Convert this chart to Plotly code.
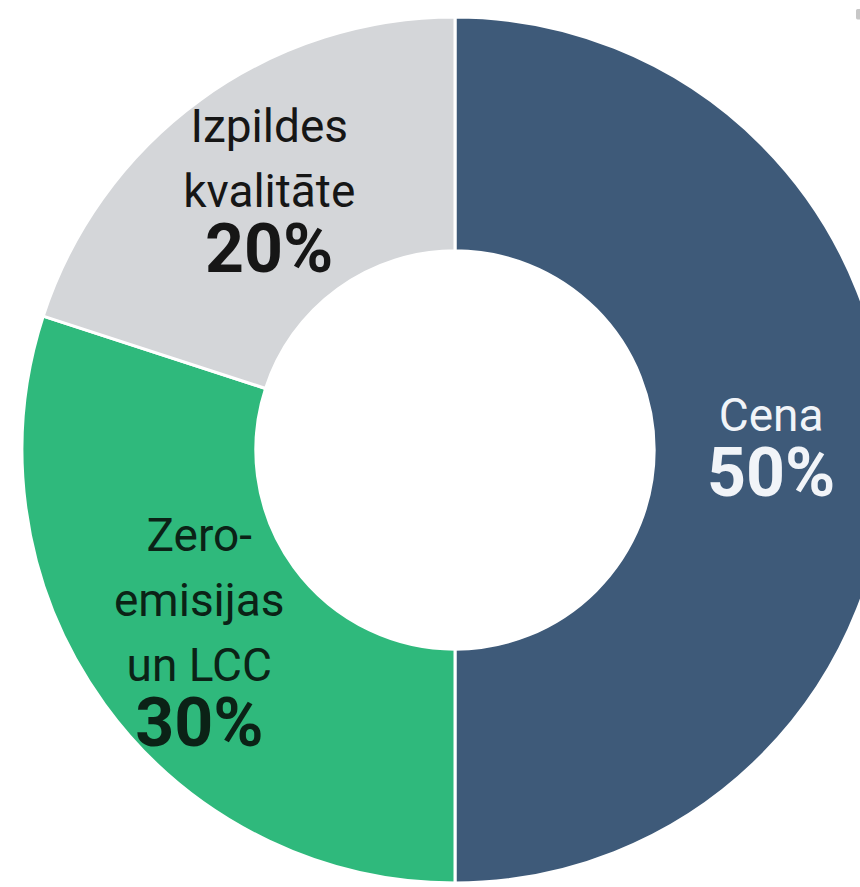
import plotly.graph_objects as go

labels = ["Cena", "Zero-<br>emisijas<br>un LCC", "Izpildes<br>kvalitāte"]
values = [50, 30, 20]
colors = ["#3e5a79", "#2fb97c", "#d4d6d9"]
text_colors = ["#f1f4f8", "#0b2216", "#161616"]

W, H = 910, 900
cx, cy, R = 455, 450, 433

fig = go.Figure(go.Pie(
    labels=labels,
    values=values,
    sort=False,
    direction="clockwise",
    rotation=0,
    hole=0.46,
    marker=dict(colors=colors, line=dict(color="white", width=3)),
    texttemplate=("<span style='font-size:46px'>%{label}</span><br>"
                  "<span style='font-size:68px'><b>%{value}%</b></span>"),
    textposition="inside",
    insidetextorientation="horizontal",
    insidetextfont=dict(family="Roboto, Arial, sans-serif", size=50, color=text_colors),
    showlegend=False,
    domain=dict(x=[(cx - R) / W, (cx + R) / W], y=[1 - (cy + R) / H, 1 - (cy - R) / H]),
))

fig.update_layout(
    width=W, height=H, autosize=False,
    margin=dict(l=0, r=0, t=0, b=0),
    paper_bgcolor="white",
    plot_bgcolor="white",
    uniformtext=dict(minsize=50, mode="show"),
)

fig.write_html("out.html", post_script="document.body.style.margin='0';document.body.style.overflow='hidden';")
